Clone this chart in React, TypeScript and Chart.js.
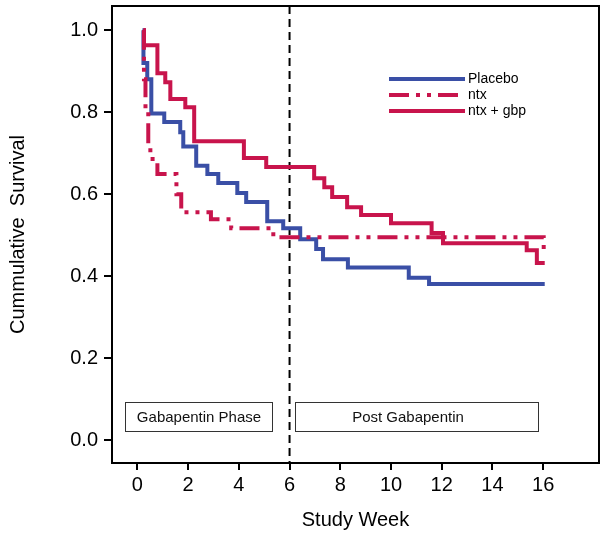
import React, { useEffect, useRef } from "react";
import { Chart, registerables } from "chart.js";

Chart.register(...registerables);

// ---- data ----
const placeboWeeks = [0.2, 0.24, 0.39, 0.55, 1.06, 1.69, 1.81, 2.32, 2.76, 3.19, 3.94, 4.29, 5.12, 5.75, 6.42, 7.05, 7.32, 8.3, 10.7, 11.5, 16.06];
const placeboSurv = [1.0, 0.92, 0.88, 0.797, 0.776, 0.751, 0.716, 0.669, 0.649, 0.627, 0.603, 0.581, 0.534, 0.517, 0.49, 0.466, 0.441, 0.421, 0.396, 0.381, 0.381];

const ntxWeeks = [0.24, 0.26, 0.32, 0.43, 0.6, 0.79, 1.54, 1.73, 2.9, 3.7, 5.36, 16.02];
const ntxSurv = [1.0, 0.88, 0.8, 0.707, 0.68, 0.649, 0.6, 0.556, 0.539, 0.517, 0.495, 0.463];

const gbpWeeks = [0.24, 0.26, 0.79, 1.1, 1.3, 1.89, 2.24, 4.2, 5.08, 6.97, 7.37, 7.68, 8.27, 8.82, 10.0, 11.6, 12.05, 15.35, 15.75, 16.06];
const gbpSurv = [1.0, 0.963, 0.895, 0.873, 0.832, 0.812, 0.729, 0.688, 0.666, 0.639, 0.617, 0.593, 0.568, 0.549, 0.529, 0.505, 0.48, 0.463, 0.432, 0.432];

const xTicks = [0, 2, 4, 6, 8, 10, 12, 14, 16];
const yTicks = [0.0, 0.2, 0.4, 0.6, 0.8, 1.0];

const seriesLabels = ["Placebo", "ntx", "ntx + gbp"];
const phaseLabels = ["Gabapentin Phase", "Post Gabapentin"];
const phaseSplitWeek = 6;

const BLUE = "#3a4fa6";
const RED = "#c8144c";
const FONT = "'Liberation Sans', Arial, sans-serif";
const NTX_DASH = [20, 7, 4, 7, 4, 7];

const toPoints = (xs: number[], ys: number[]) => xs.map((x, i) => ({ x, y: ys[i] }));

const framePlugin = {
  id: "frameAndDecor",
  beforeDatasetsDraw(chart: any) {
    const { ctx, chartArea, scales } = chart;
    const xs = scales.x;
    const ys = scales.y;
    ctx.save();
    const boxes = [
      { x0: -0.5, x1: 5.3, label: phaseLabels[0], dx: 0 },
      { x0: 6.2, x1: 15.8, label: phaseLabels[1], dx: -9 },
    ];
    const yTop = ys.getPixelForValue(0.093);
    const yBot = ys.getPixelForValue(0.022);
    ctx.lineWidth = 1;
    ctx.strokeStyle = "#333";
    ctx.font = `15px ${FONT}`;
    ctx.fillStyle = "#111";
    ctx.textAlign = "center";
    ctx.textBaseline = "middle";
    boxes.forEach((b) => {
      const l = Math.round(xs.getPixelForValue(b.x0)) + 0.5;
      const r = Math.round(xs.getPixelForValue(b.x1)) + 0.5;
      const t = Math.round(yTop) + 0.5;
      const bt = Math.round(yBot) + 0.5;
      ctx.strokeRect(l, t, r - l, bt - t);
      ctx.fillText(b.label, (l + r) / 2 + b.dx, (t + bt) / 2 + 1);
    });
    const dx = xs.getPixelForValue(phaseSplitWeek);
    ctx.beginPath();
    ctx.setLineDash([8, 5]);
    ctx.lineWidth = 2;
    ctx.strokeStyle = "#000";
    ctx.moveTo(dx, chartArea.top);
    ctx.lineTo(dx, chartArea.bottom);
    ctx.stroke();
    ctx.restore();
  },
  afterDraw(chart: any) {
    const { ctx, chartArea } = chart;
    ctx.save();
    ctx.lineWidth = 2;
    ctx.strokeStyle = "#000";
    ctx.setLineDash([]);
    ctx.strokeRect(chartArea.left, chartArea.top, chartArea.right - chartArea.left, chartArea.bottom - chartArea.top);
    const rows = [79, 95, 111];
    const x0 = 389;
    const x1 = 465;
    chart.data.datasets.forEach((ds: any, i: number) => {
      const y = rows[i];
      ctx.beginPath();
      ctx.setLineDash(ds.borderDash || []);
      ctx.lineWidth = 4;
      ctx.strokeStyle = ds.borderColor;
      ctx.moveTo(x0, y);
      ctx.lineTo(x1, y);
      ctx.stroke();
      ctx.setLineDash([]);
      ctx.fillStyle = "#000";
      ctx.font = `14px ${FONT}`;
      ctx.textAlign = "left";
      ctx.textBaseline = "middle";
      ctx.fillText(ds.label, x1 + 3, y);
    });
    ctx.restore();
  },
};

export default function App() {
  const ref = useRef<HTMLCanvasElement | null>(null);
  useEffect(() => {
    if (!ref.current) return;
    const chart = new Chart(ref.current, {
      type: "line",
      data: {
        datasets: [
          {
            label: seriesLabels[0],
            data: toPoints(placeboWeeks, placeboSurv),
            borderColor: BLUE,
            borderWidth: 4,
            stepped: "before",
            pointRadius: 0,
            fill: false,
            order: 2,
          },
          {
            label: seriesLabels[1],
            data: toPoints(ntxWeeks, ntxSurv),
            borderColor: RED,
            borderWidth: 4,
            borderDash: NTX_DASH,
            stepped: "before",
            pointRadius: 0,
            fill: false,
            order: 1,
          },
          {
            label: seriesLabels[2],
            data: toPoints(gbpWeeks, gbpSurv),
            borderColor: RED,
            borderWidth: 4,
            stepped: "before",
            pointRadius: 0,
            fill: false,
            order: 0,
          },
        ] as any,
      },
      options: {
        animation: false,
        responsive: false,
        devicePixelRatio: 1,
        layout: { padding: { top: 6, right: 6, left: 0, bottom: 0 } },
        plugins: { legend: { display: false }, tooltip: { enabled: false } },
        scales: {
          x: {
            type: "linear",
            min: -1,
            max: 18.2,
            afterFit: (s: any) => {
              s.height = 74;
              s.paddingLeft = 0;
              s.paddingRight = 0;
            },
            afterBuildTicks: (s: any) => {
              s.ticks = xTicks.map((v) => ({ value: v }));
            },
            grid: { display: true, drawOnChartArea: false, drawTicks: true, tickLength: 7, color: "#000", lineWidth: 2 },
            border: { display: false },
            ticks: { color: "#000", font: { family: FONT, size: 20 }, padding: 3, maxRotation: 0, autoSkip: false },
            title: { display: true, text: "Study Week", color: "#000", font: { family: FONT, size: 20 }, padding: { top: 0, bottom: 5 } },
          },
          y: {
            type: "linear",
            min: -0.056,
            max: 1.059,
            afterFit: (s: any) => {
              s.width = 112;
              s.paddingTop = 0;
              s.paddingBottom = 0;
            },
            afterBuildTicks: (s: any) => {
              s.ticks = yTicks.map((v) => ({ value: v }));
            },
            grid: { display: true, drawOnChartArea: false, drawTicks: true, tickLength: 8, color: "#000", lineWidth: 2 },
            border: { display: false },
            ticks: {
              color: "#000",
              font: { family: FONT, size: 20 },
              padding: 6,
              autoSkip: false,
              callback: (v: any) => Number(v).toFixed(1),
            },
            title: { display: true, text: "Cummulative  Survival", color: "#000", font: { family: FONT, size: 20 }, padding: { top: 6, bottom: 0 } },
          },
        },
      },
      plugins: [framePlugin],
    });
    return () => chart.destroy();
  }, []);
  return (
    <div style={{ position: "absolute", left: 0, top: 0, width: 605, height: 537, background: "#fff" }}>
      <canvas ref={ref} width={605} height={537} style={{ display: "block" }} />
    </div>
  );
}
